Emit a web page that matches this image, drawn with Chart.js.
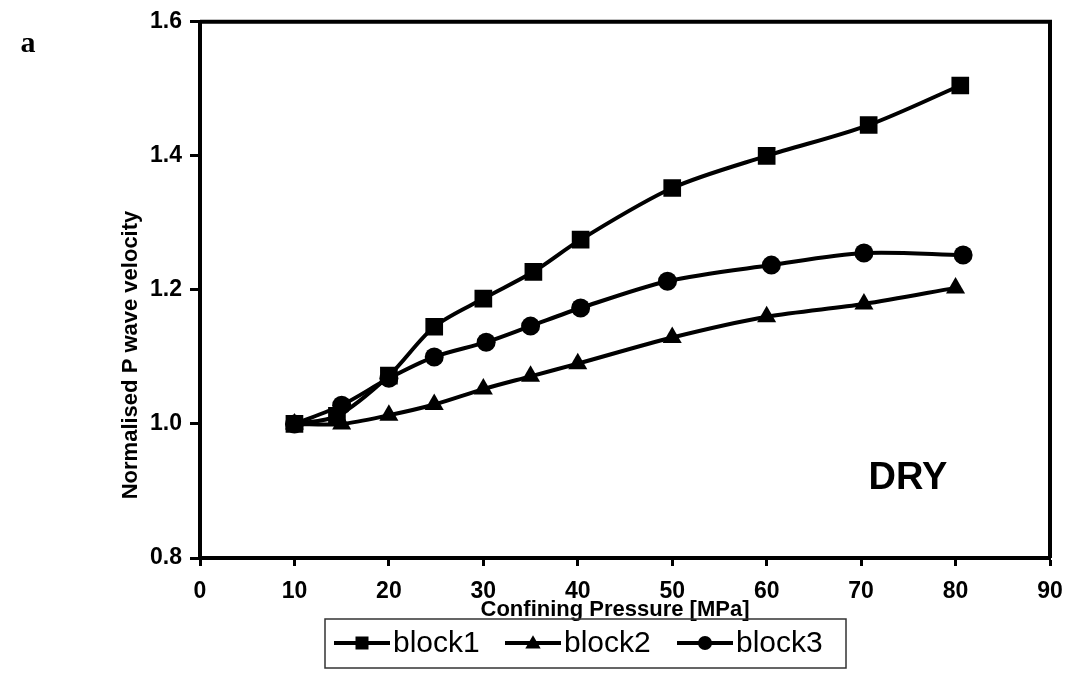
<!DOCTYPE html>
<html>
<head>
<meta charset="utf-8">
<script src="https://cdn.jsdelivr.net/npm/chart.js@4/dist/chart.umd.min.js"></script>
<style>
  html, body { margin: 0; padding: 0; background: #fff; }
  #wrap { width: 1079px; height: 673px; position: relative; }
</style>
</head>
<body>
<div id="wrap"><canvas id="myChart"></canvas></div>
<script>
// confining pressure (MPa) and normalised P wave velocity for each block
const block1X = [10, 14.5, 20, 24.8, 30, 35.3, 40.3, 50, 60, 70.8, 80.5];
const block1Y = [1.0, 1.012, 1.072, 1.145, 1.187, 1.227, 1.275, 1.352, 1.400, 1.446, 1.505];

const block2X = [10, 15, 20, 24.8, 30, 35, 40, 50, 60, 70.3, 80];
const block2Y = [1.0, 1.0, 1.013, 1.029, 1.052, 1.071, 1.090, 1.129, 1.160, 1.179, 1.203];

const block3X = [10, 15, 20, 24.8, 30.3, 35, 40.3, 49.5, 60.5, 70.3, 80.8];
const block3Y = [1.0, 1.028, 1.068, 1.100, 1.122, 1.146, 1.173, 1.213, 1.237, 1.255, 1.252];

const seriesNames = ['block1', 'block2', 'block3'];
const xTicks = [0, 10, 20, 30, 40, 50, 60, 70, 80, 90];
const yTicks = [0.8, 1.0, 1.2, 1.4, 1.6];

const xTitle = 'Confining Pressure [MPa]';
const yTitle = 'Normalised P wave velocity';
const panelLabel = 'a';
const conditionLabel = 'DRY';

const sans = "'Liberation Sans', Arial, sans-serif";

function toPoints(xs, ys) {
    return xs.map((x, i) => ({x: x, y: ys[i]}));
}

function makeSet(name, xs, ys, style, r) {
    return {
        label: name,
        data: toPoints(xs, ys),
        showLine: true,
        borderColor: '#000',
        backgroundColor: '#000',
        borderWidth: 4,
        tension: 0.3,
        pointStyle: style,
        pointRadius: r,
        pointHoverRadius: r,
        pointBorderWidth: 0,
        pointBackgroundColor: '#000'
    };
}

// small marker drawing for the legend box
function marker(ctx, style, x, y, s) {
    ctx.beginPath();
    if (style === 'rect') {
        ctx.rect(x - s, y - s, 2 * s, 2 * s);
    } else if (style === 'triangle') {
        ctx.moveTo(x, y - s * 1.1);
        ctx.lineTo(x + s * 1.1, y + s * 0.8);
        ctx.lineTo(x - s * 1.1, y + s * 0.8);
        ctx.closePath();
    } else {
        ctx.arc(x, y, s, 0, Math.PI * 2);
    }
    ctx.fill();
}

const decor = {
    id: 'decor',
    afterDraw(chart) {
        const ctx = chart.ctx;
        const a = chart.chartArea;
        ctx.save();

        // frame round the plot
        ctx.strokeStyle = '#000';
        ctx.lineWidth = 4;
        ctx.beginPath();
        ctx.moveTo(a.left, a.top);
        ctx.lineTo(a.right, a.top);
        ctx.lineTo(a.right, a.bottom);
        ctx.stroke();

        ctx.fillStyle = '#000';
        ctx.textAlign = 'center';
        ctx.textBaseline = 'middle';

        // axis titles
        ctx.font = 'bold 22px ' + sans;
        ctx.fillText(xTitle, 615, 610);
        ctx.save();
        ctx.translate(131, 355);
        ctx.rotate(-Math.PI / 2);
        ctx.fillText(yTitle, 0, 0);
        ctx.restore();

        // panel letter and condition
        ctx.font = "bold 30px 'Liberation Serif', 'Times New Roman', serif";
        ctx.fillText(panelLabel, 28, 44);
        ctx.font = 'bold 38px ' + sans;
        ctx.fillText(conditionLabel, 908, 479);

        // legend
        ctx.lineWidth = 1.5;
        ctx.strokeStyle = '#333';
        ctx.strokeRect(325, 619, 521, 49);
        const starts = [334, 505, 677];
        const sizes = {rect: 6.5, triangle: 7, circle: 7};
        ctx.font = '30px ' + sans;
        ctx.textAlign = 'left';
        chart.data.datasets.forEach((ds, i) => {
            const x0 = starts[i];
            const y0 = 643;
            ctx.strokeStyle = '#000';
            ctx.lineWidth = 4;
            ctx.beginPath();
            ctx.moveTo(x0, y0);
            ctx.lineTo(x0 + 56, y0);
            ctx.stroke();
            marker(ctx, ds.pointStyle, x0 + 28, y0, sizes[ds.pointStyle]);
            ctx.fillText(ds.label, x0 + 59, y0 + 1);
        });
        ctx.restore();
    }
};

const tickFont = {family: sans, size: 23, weight: 'bold'};

new Chart(document.getElementById('myChart'), {
    type: 'scatter',
    data: {
        datasets: [
            makeSet(seriesNames[0], block1X, block1Y, 'rect', 12.5),
            makeSet(seriesNames[1], block2X, block2Y, 'triangle', 11),
            makeSet(seriesNames[2], block3X, block3Y, 'circle', 9.5)
        ]
    },
    options: {
        responsive: true,
        maintainAspectRatio: false,
        animation: false,
        layout: {padding: {left: 110, right: 29, top: 20, bottom: 0}},
        plugins: {
            legend: {display: false},
            tooltip: {enabled: false}
        },
        scales: {
            x: {
                type: 'linear',
                min: 0,
                max: 90,
                afterFit(scale) { scale.height = 115; },
                afterBuildTicks(scale) { scale.ticks = xTicks.map(v => ({value: v})); },
                ticks: {color: '#000', font: tickFont, padding: 12, maxRotation: 0},
                grid: {drawOnChartArea: false, tickLength: 8, tickWidth: 3, tickColor: '#000'},
                border: {color: '#000', width: 4}
            },
            y: {
                min: 0.8,
                max: 1.6,
                afterFit(scale) { scale.width = 90; },
                afterBuildTicks(scale) { scale.ticks = yTicks.map(v => ({value: v})); },
                ticks: {color: '#000', font: tickFont, padding: 8, callback: v => v.toFixed(1)},
                grid: {drawOnChartArea: false, tickLength: 10, tickWidth: 3, tickColor: '#000'},
                border: {color: '#000', width: 4}
            }
        }
    },
    plugins: [decor]
});
</script>
</body>
</html>
